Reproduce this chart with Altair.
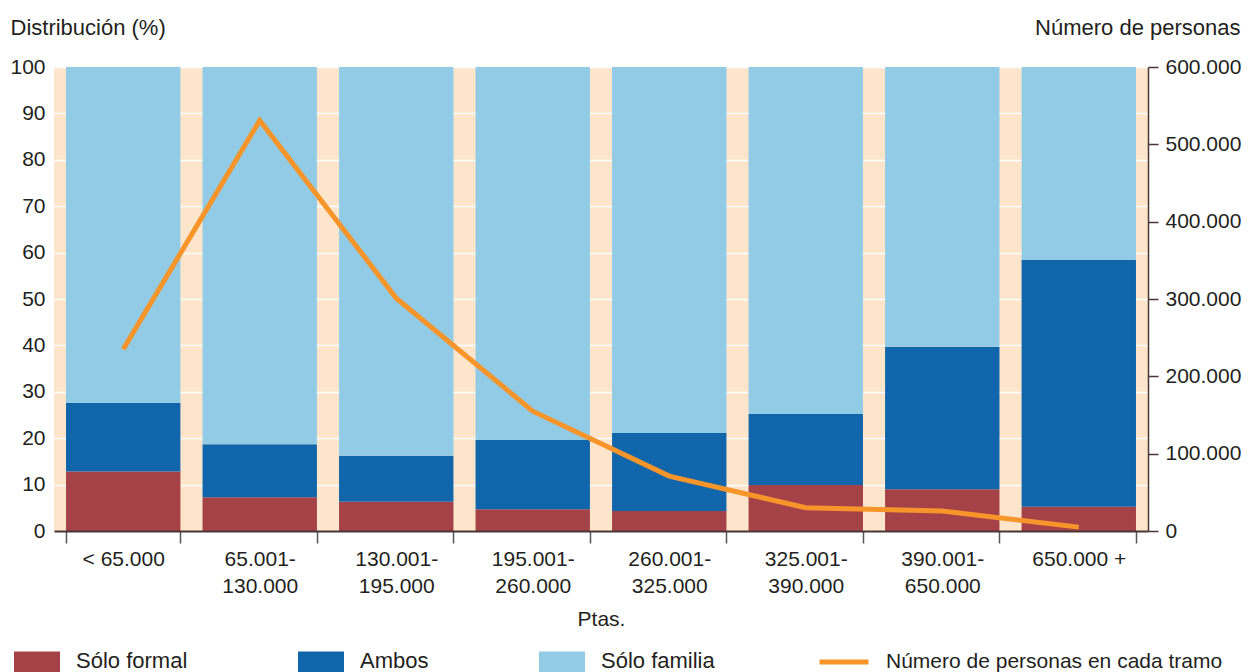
import altair as alt
import pandas as pd

categorias = ["< 65.000", "65.001-|130.000", "130.001-|195.000", "195.001-|260.000",
              "260.001-|325.000", "325.001-|390.000", "390.001-|650.000", "650.000 +"]
series = ["Sólo formal", "Ambos", "Sólo familia"]
solo_formal = [12.8, 7.3, 6.3, 4.7, 4.3, 9.9, 9.0, 5.2]
ambos = [14.8, 11.4, 9.9, 14.9, 16.8, 15.3, 30.7, 53.2]
solo_familia = [72.4, 81.3, 83.8, 80.4, 78.9, 74.8, 60.3, 41.6]
personas = [235000, 531000, 301000, 155000, 71000, 30000, 26000, 5000]
linea_nombre = "Número de personas en cada tramo"

colores = ["#a54247", "#1166ab", "#92cbe6"]
naranja = "#f7952b"
fondo = "#fde5cb"
FONT = "Liberation Sans"
TXT = "#231f20"

rows = []
for i, c in enumerate(categorias):
    for k, (s, vals) in enumerate(zip(series, [solo_formal, ambos, solo_familia])):
        rows.append({"cat": c, "serie": s, "valor": vals[i], "orden": k})
bars_df = pd.DataFrame(rows)
line_df = pd.DataFrame({"cat": categorias, "personas": personas, "serie": [linea_nombre] * len(categorias)})

x_enc = alt.X(
    "cat:N", sort=categorias,
    scale=alt.Scale(paddingInner=0.162, paddingOuter=0.088),
    axis=alt.Axis(
        title="Ptas.", labelExpr="split(datum.label, '|')", labelAngle=0,
        tickBand="extent", tickSize=12, tickColor="#555555", tickWidth=1.5,
        domainColor="#4a3535", domainWidth=2, labelPadding=5, labelLineHeight=27,
        labelFontSize=21, labelColor=TXT, labelFont=FONT, titleFont=FONT,
        titleFontSize=21, titleFontWeight="normal", titleColor=TXT, titlePadding=12,
        zindex=1,
    ),
)

bars = alt.Chart(bars_df).mark_bar().encode(
    x=x_enc,
    y=alt.Y(
        "valor:Q", stack="zero",
        scale=alt.Scale(domain=[0, 100], nice=False),
        axis=alt.Axis(
            values=list(range(0, 101, 10)), title="Distribución (%)", titleAngle=0,
            titleAlign="left", titleBaseline="middle", titleX=-44, titleY=-40,
            ticks=False, domain=False, grid=True, gridColor="white", gridWidth=1.5,
            labelFontSize=21, labelColor=TXT, labelFont=FONT, labelPadding=9,
            titleFont=FONT, titleFontSize=22, titleFontWeight="normal", titleColor=TXT,
        ),
    ),
    color=alt.Color(
        "serie:N",
        scale=alt.Scale(domain=series, range=colores),
        legend=alt.Legend(
            orient="none", legendX=-40, legendY=571, direction="horizontal", columns=3,
            title=None, symbolType="M-1,-0.43H1V1.1H-1Z", symbolSize=2116,
            symbolStrokeWidth=0, symbolOpacity=1, labelFontSize=22, labelFont=FONT,
            labelColor=TXT, labelOffset=16, columnPadding=110, labelBaseline="middle",
            labelLimit=400,
        ),
    ),
    order=alt.Order("orden:Q"),
)

line = alt.Chart(line_df).mark_line(strokeWidth=5).encode(
    x=alt.X("cat:N", sort=categorias),
    y=alt.Y(
        "personas:Q",
        scale=alt.Scale(domain=[0, 600000], nice=False),
        axis=alt.Axis(
            orient="right", values=list(range(0, 600001, 100000)),
            labelExpr="replace(format(datum.value, ','), ',', '.')",
            title="Número de personas", titleAngle=0, titleAlign="right",
            titleBaseline="middle", titleX=92, titleY=-40,
            grid=False, domainColor="#4a3535", domainWidth=1.5, tickColor="#4a3535",
            tickSize=10, tickWidth=1.5, labelPadding=7,
            labelFontSize=21, labelColor=TXT, labelFont=FONT,
            titleFont=FONT, titleFontSize=22, titleFontWeight="normal", titleColor=TXT,
        ),
    ),
    stroke=alt.Stroke(
        "serie:N",
        scale=alt.Scale(domain=[linea_nombre], range=[naranja]),
        legend=alt.Legend(
            orient="none", legendX=763, legendY=568, title=None,
            symbolType="stroke", symbolSize=2401, symbolStrokeWidth=5,
            labelFontSize=21, labelFont=FONT, labelColor=TXT, labelOffset=15,
            labelLimit=500,
        ),
    ),
)

chart = alt.layer(bars, line).resolve_scale(y="independent").properties(
    width=1094, height=464,
    padding={"left": 54, "top": 67, "right": 102, "bottom": 141},
    autosize=alt.AutoSizeParams(type="none"),
    background="white",
).configure_view(stroke=None, fill=fondo)

chart.save("out.html", embed_options={"renderer": "svg", "actions": False})
